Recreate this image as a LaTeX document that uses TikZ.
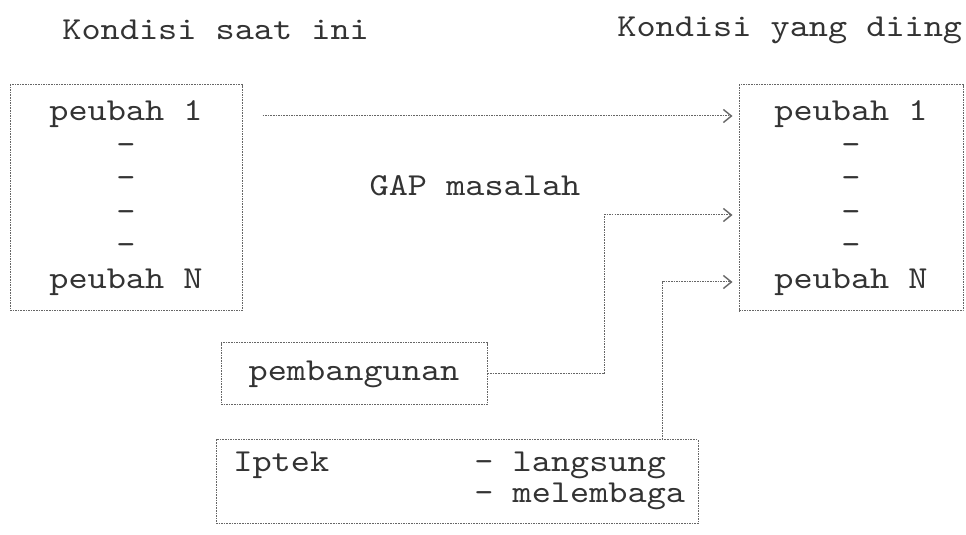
\documentclass[tikz,border=0pt]{standalone}
\usepackage{fontspec}
\setmonofont{lmmono10-regular.otf}[FakeStretch=1.14]
\usetikzlibrary{arrows.meta, positioning, calc}
\usepackage{xcolor}
\definecolor{ink}{gray}{0.2}
\newcommand{\prnfont}{\ttfamily\fontsize{16}{16.75}\selectfont}
\tikzset{
  frame/.style = {rectangle, draw=ink!75, line width=0.5pt, dash pattern=on 0.8pt off 0.5pt, inner sep=0pt, align=center, font=\prnfont, text=ink},
  label/.style = {inner sep=0pt, font=\prnfont, text=ink},
  link/.style = {draw=ink!75, line width=0.5pt, dash pattern=on 0.8pt off 0.5pt},
  arrow/.style = {link, -{Straight Barb[length=4pt, width=6.5pt, line width=0.7pt]}}
}
\begin{document}
\begin{tikzpicture}[x=0.5pt, y=-0.5pt]
\useasboundingbox (0,0) rectangle (966,535);
\clip (0,0) rectangle (966,535);

% judul
\node[label, anchor=west] (t1) at (62,30) {Kondisi saat ini};
\node[label, anchor=west] (t2) at (617,30) {Kondisi yang diing};

% kotak kondisi
\node[frame, minimum width=116pt, minimum height=113pt] (now) at (126,198) {peubah 1\\-\\-\\-\\-\\peubah N};
\node[frame, minimum width=112pt, minimum height=113pt] (goal) at (851,198) {peubah 1\\-\\-\\-\\-\\peubah N};

\node[label] (gap) at (475,186) {GAP masalah};

\node[frame, minimum width=133pt, minimum height=31pt] (dev) at (354,374) {pembangunan};
\node[frame, minimum width=241pt, minimum height=42pt] (tech) at (457,482) {};
\node[label, anchor=west] (ipt) at (233,465) {Iptek};
\node[label, anchor=west] (ls) at (474,465) {- langsung};
\node[label, anchor=west] (ml) at (474,496) {- melembaga};

\coordinate (r1) at (0,116);
\coordinate (bend1) at (604,215);
\coordinate (bend2) at (662,282);

\draw[arrow] ($(now.east |- r1)+(10pt,0)$) -- ($(goal.west |- r1)+(-3pt,0)$);
\draw[arrow] (dev.east) -| (bend1) -- ($(goal.west |- bend1)+(-3pt,0)$);
\draw[arrow] (tech.north -| bend2) -- (bend2) -- ($(goal.west |- bend2)+(-3pt,0)$);
\end{tikzpicture}
\end{document}
